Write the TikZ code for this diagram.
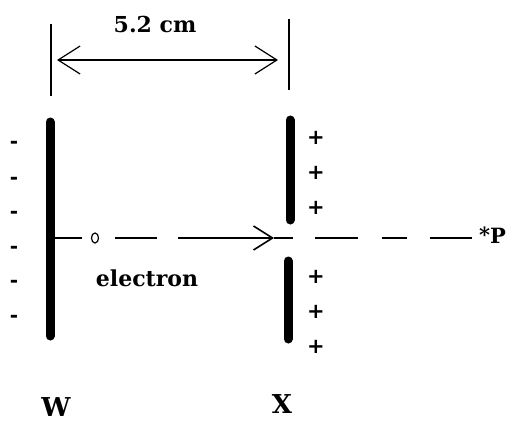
\documentclass[tikz,border=0pt]{standalone}
\usepackage{fontspec}
\setmainfont{DejaVu Serif}
\newfontfamily\signfont{DejaVu Sans}
\usetikzlibrary{arrows.meta,shapes.geometric}
\begin{document}
\begin{tikzpicture}[x=1pt,y=-1pt,
  lbl/.style={inner sep=0pt,font=\bfseries\fontsize{22}{24}\selectfont},
  biglbl/.style={inner sep=0pt,font=\bfseries\fontsize{26}{28}\selectfont},
  plus/.style={inner sep=0pt,font=\signfont\bfseries\fontsize{21}{23}\selectfont},
  minus/.style={inner sep=0pt,font=\signfont\bfseries\fontsize{20}{22}\selectfont},
  plate/.style={line width=9pt,line cap=round},
  dim/.style={line width=1.4pt},
  beam/.style={line width=1.8pt}]
\useasboundingbox (0,0) rectangle (516,423);
% dimension
\coordinate (tl1) at (51,24); \coordinate (tl2) at (51,96);
\coordinate (tr1) at (289,19); \coordinate (tr2) at (289,90);
\draw[dim] (tl1) -- (tl2);
\draw[dim] (tr1) -- (tr2);
\coordinate (dl) at (57,60); \coordinate (dr) at (278,60);
\draw[dim,{Straight Barb[length=22pt,width=28pt,line width=1.2pt]}-{Straight Barb[length=22pt,width=28pt,line width=1.2pt]}] (dl) -- (dr);
\node[lbl] (dimlbl) at (155,24) {5.2 cm};
% plates
\coordinate (w1) at (50,122); \coordinate (w2) at (50,336);
\draw[plate] (w1) -- (w2);
\coordinate (xa1) at (290,120); \coordinate (xa2) at (290,220);
\draw[plate] (xa1) -- (xa2);
\coordinate (xb1) at (288,261); \coordinate (xb2) at (288,339);
\draw[plate] (xb1) -- (xb2);
% minus signs
\foreach \y [count=\i] in {145,181,215,250,284,319}
  \node[minus] (m\i) at (14,\y) {-};
% plus signs
\foreach \y [count=\i] in {138,173,208,277,312,347}
  \node[plus] (p\i) at (316,\y) {+};
% beam
\coordinate (b0) at (54,238); \coordinate (b1) at (82,238);
\draw[beam] (b0) -- (b1);
\node[draw,ellipse,line width=1.2pt,minimum width=7pt,minimum height=10pt,inner sep=0pt] (e) at (95,238) {};
\coordinate (c1) at (115,238); \coordinate (c2) at (157,238);
\draw[beam] (c1) -- (c2);
\coordinate (d1) at (178,238); \coordinate (d2) at (274,238); \coordinate (d3) at (293,238);
\draw[beam,-{Straight Barb[length=19pt,width=24pt,line width=1.6pt]}] (d1) -- (d2);
\draw[beam] (d2) -- (d3);
\coordinate (f1) at (315,238); \coordinate (f2) at (358,238);
\coordinate (g1) at (382,238); \coordinate (g2) at (407,238);
\coordinate (h1) at (430,238); \coordinate (h2) at (472,238);
\draw[beam] (f1) -- (f2);
\draw[beam] (g1) -- (g2);
\draw[beam] (h1) -- (h2);
\node[inner sep=0pt,font=\bfseries\fontsize{21}{23}\selectfont,anchor=base west] (P) at (479,243) {\raisebox{1pt}{*}P};
\node[lbl] (el) at (147,278) {electron};
\node[biglbl] (W) at (56,407) {W};
\node[biglbl] (X) at (282,404) {X};
\end{tikzpicture}
\end{document}
